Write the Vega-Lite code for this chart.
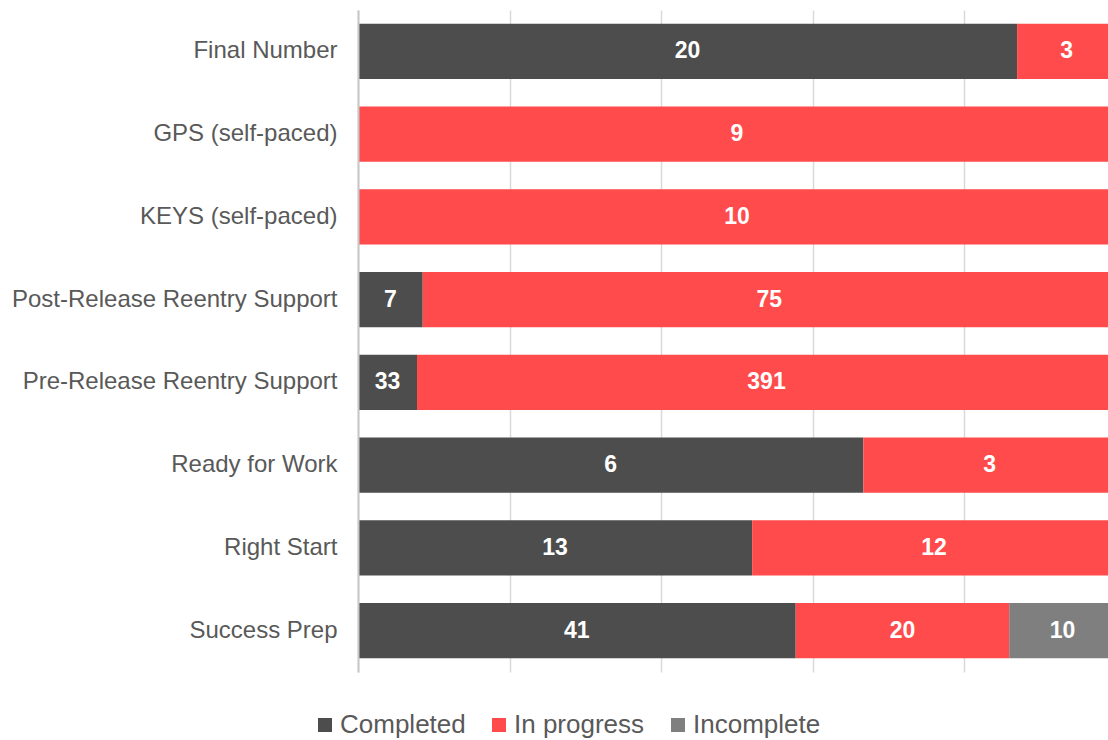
{
  "$schema": "https://vega.github.io/schema/vega-lite/v6.json",
  "width": 750,
  "height": 662,
  "autosize": {"type": "none"},
  "padding": {"left": 358, "top": 10, "right": 0, "bottom": 68},
  "config": {
    "view": {"stroke": null},
    "font": "Liberation Sans"
  },
  "data": {
    "values": [
      {"program": "Final Number", "status": "Completed", "count": 20},
      {"program": "Final Number", "status": "In progress", "count": 3},
      {"program": "GPS (self-paced)", "status": "In progress", "count": 9},
      {"program": "KEYS (self-paced)", "status": "In progress", "count": 10},
      {"program": "Post-Release Reentry Support", "status": "Completed", "count": 7},
      {"program": "Post-Release Reentry Support", "status": "In progress", "count": 75},
      {"program": "Pre-Release Reentry Support", "status": "Completed", "count": 33},
      {"program": "Pre-Release Reentry Support", "status": "In progress", "count": 391},
      {"program": "Ready for Work", "status": "Completed", "count": 6},
      {"program": "Ready for Work", "status": "In progress", "count": 3},
      {"program": "Right Start", "status": "Completed", "count": 13},
      {"program": "Right Start", "status": "In progress", "count": 12},
      {"program": "Success Prep", "status": "Completed", "count": 41},
      {"program": "Success Prep", "status": "In progress", "count": 20},
      {"program": "Success Prep", "status": "Incomplete", "count": 10}
    ]
  },
  "encoding": {
    "y": {
      "field": "program",
      "type": "nominal",
      "title": null,
      "scale": {"paddingInner": 0.33, "paddingOuter": 0.165},
      "axis": {
        "domainColor": "#c8c8c8",
        "domainWidth": 2,
        "ticks": false,
        "labelFontSize": 24,
        "labelColor": "#595959",
        "labelPadding": 21,
        "labelLimit": 400,
        "zindex": 1
      }
    }
  },
  "layer": [
    {
      "mark": {"type": "bar", "clip": true},
      "encoding": {
        "x": {
          "field": "count",
          "type": "quantitative",
          "stack": "normalize",
          "title": null,
          "scale": {"domain": [0, 0.98945], "nice": false, "zero": true},
          "axis": {
            "values": [0, 0.2, 0.4, 0.6, 0.8],
            "labels": false,
            "ticks": false,
            "domain": false,
            "grid": true,
            "gridColor": "#d9d9d9",
            "gridWidth": 1.5,
            "zindex": 0
          }
        },
        "color": {
          "field": "status",
          "type": "nominal",
          "title": null,
          "scale": {
            "domain": ["Completed", "In progress", "Incomplete"],
            "range": ["#4d4d4d", "#ff4b4b", "#7f7f7f"]
          },
          "legend": {
            "orient": "none",
            "legendX": -46,
            "legendY": 702,
            "direction": "horizontal",
            "symbolType": "square",
            "symbolSize": 196,
            "symbolOpacity": 1,
            "symbolStrokeWidth": 0,
            "labelFontSize": 26,
            "labelColor": "#595959",
            "labelOffset": 2,
            "columnPadding": 20
          }
        },
        "order": {"field": "status", "type": "nominal"}
      }
    },
    {
      "mark": {"type": "text", "color": "white", "fontWeight": "bold", "fontSize": 23, "clip": true},
      "encoding": {
        "x": {
          "field": "count",
          "type": "quantitative",
          "stack": "normalize",
          "bandPosition": 0.5
        },
        "text": {"field": "count", "type": "quantitative"},
        "detail": {"field": "status", "type": "nominal"},
        "order": {"field": "status", "type": "nominal"}
      }
    }
  ]
}
